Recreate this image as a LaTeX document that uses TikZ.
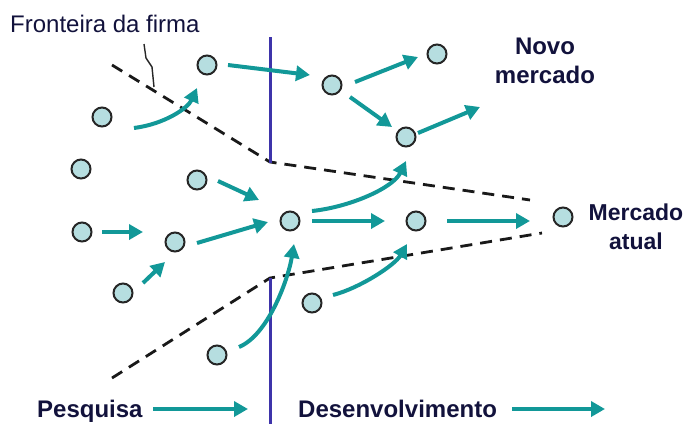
\documentclass[tikz,border=0pt]{standalone}
\usepackage{fontspec}
\setmainfont{Liberation Sans}
\usetikzlibrary{arrows.meta,calc}
\definecolor{tealc}{RGB}{18,152,152}
\definecolor{dotfill}{RGB}{182,222,224}
\definecolor{bline}{RGB}{62,52,170}
\definecolor{txtc}{RGB}{18,18,60}
\tikzset{
  dot/.style={circle,draw=black!85,line width=2pt,fill=dotfill,minimum size=19pt,inner sep=0pt},
  arr/.style={tealc,line width=4pt,-{Triangle[length=14pt,width=15pt]}},
  bound/.style={black!90,line width=2.8pt,dash pattern=on 12pt off 8pt},
  wall/.style={bline,line width=3pt},
  lbl/.style={inner sep=0pt,text=txtc,font=\fontsize{24}{29}\selectfont\bfseries,align=center},
  lblr/.style={inner sep=0pt,text=txtc,font=\fontsize{24}{29}\selectfont}
}
\begin{document}
\begin{tikzpicture}[x=1pt,y=-1pt]
\useasboundingbox (0,0) rectangle (686,424);
% firm boundary (dashed funnel)
\draw[bound] (112,65) -- (270,162) -- (530,200);
\draw[bound] (112,378) -- (270,278) -- (542,233);
% research / development wall
\draw[wall] (270,37) -- (270,163);
\draw[wall] (270,278) -- (270,424);
% dots
\node[dot] (A) at (207,65) {};
\node[dot] (B) at (102,117) {};
\node[dot] (C) at (81,169) {};
\node[dot] (D) at (197,180) {};
\node[dot] (E) at (82,232) {};
\node[dot] (F) at (175,242) {};
\node[dot] (G) at (123,293) {};
\node[dot] (H) at (290,221) {};
\node[dot] (I) at (217,355) {};
\node[dot] (J) at (312,303) {};
\node[dot] (K) at (332,85) {};
\node[dot] (L) at (437,54) {};
\node[dot] (M) at (406,137) {};
\node[dot] (N) at (416,221) {};
\node[dot] (O) at (563,217) {};
% labels
\node[lblr,anchor=base west] (front) at (10,32) {Fronteira da firma};
\node[lbl,anchor=north] (novo) at (545,38) {Novo\\mercado};
\node[lbl,anchor=north,font=\fontsize{23}{29}\selectfont\bfseries] (atual) at (636,204) {Mercado\\atual};
\node[lbl,anchor=base west] (pesq) at (37,417) {Pesquisa};
\node[lbl,anchor=base west] (desenv) at (298,417) {Desenvolvimento};
% pointer from label to boundary
\coordinate (w1) at (144,44);
\coordinate (w2) at (154,87);
\draw[black!85,line width=1.4pt] (w1) -- (146,58) -- (152,67) -- (w2);
% arrows
\draw[arr] ($(B)+(32,11)$) .. controls (165,124) and (188,108) .. ($(A)+(-10,23)$);
\draw[arr] ($(A)+(21,0)$) -- ($(K)+(-22,-10)$);
\draw[arr] ($(K)+(23,-3)$) -- ($(L)+(-19,3)$);
\draw[arr] ($(K)+(18,12)$) -- ($(M)+(-14,-10)$);
\coordinate (mout) at (480,107);
\draw[arr] ($(M)+(12,-4)$) -- (mout);
\draw[arr] ($(D)+(21,1)$) -- ($(H)+(-31,-21)$);
\draw[arr] ($(E)+(20,0)$) -- ($(F)+(-32,-10)$);
\draw[arr] ($(F)+(22,1)$) -- ($(H)+(-22,1)$);
\draw[arr] ($(G)+(20,-10)$) -- ($(F)+(-10,20)$);
\draw[arr] ($(I)+(22,-8)$) .. controls (268,335) and (288,280) .. ($(H)+(4,23)$);
\draw[arr] ($(H)+(22,-10)$) .. controls (350,207) and (393,188) .. ($(M)+(0,24)$);
\draw[arr] ($(H)+(22,0)$) -- ($(N)+(-31,0)$);
\draw[arr] ($(N)+(31,0)$) -- ($(O)+(-33,4)$);
\draw[arr] ($(J)+(21,-8)$) .. controls (360,288) and (395,265) .. ($(N)+(-9,23)$);
\coordinate (p1) at (153,409);
\coordinate (p2) at (248,409);
\draw[arr] (p1) -- (p2);
\coordinate (d1) at (512,409);
\coordinate (d2) at (605,409);
\draw[arr] (d1) -- (d2);
\end{tikzpicture}
\end{document}
